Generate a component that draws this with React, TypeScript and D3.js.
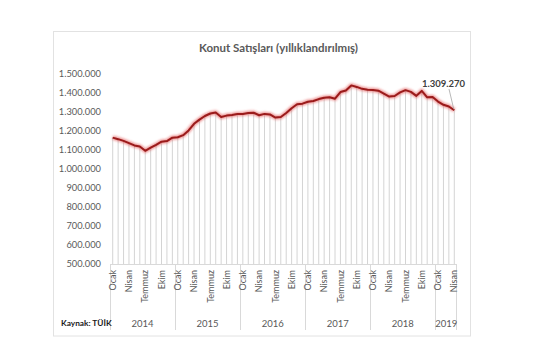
import React from "react";
import * as d3 from "d3";

const years = ["2014", "2015", "2016", "2017", "2018", "2019"];
const monthNames = ["Ocak", "Şubat", "Mart", "Nisan", "Mayıs", "Haziran", "Temmuz", "Ağustos", "Eylül", "Ekim", "Kasım", "Aralık"];
const shownMonths = ["Ocak", "Nisan", "Temmuz", "Ekim"];

const sales2014 = [1165000, 1157000, 1148000, 1136000, 1124000, 1118000, 1096000, 1112000, 1127000, 1144000, 1147000, 1165000];
const sales2015 = [1167000, 1178000, 1203000, 1238000, 1260000, 1279000, 1292000, 1297000, 1274000, 1281000, 1284000, 1289000];
const sales2016 = [1290000, 1295000, 1296000, 1283000, 1290000, 1287000, 1271000, 1274000, 1295000, 1320000, 1341000, 1344000];
const sales2017 = [1354000, 1358000, 1368000, 1375000, 1378000, 1370000, 1405000, 1413000, 1440000, 1432000, 1422000, 1417000];
const sales2018 = [1416000, 1412000, 1397000, 1381000, 1384000, 1403000, 1415000, 1406000, 1385000, 1411000, 1377000, 1379000];
const sales2019 = [1355000, 1338000, 1329000, 1309270];

const yTicks = [500000, 600000, 700000, 800000, 900000, 1000000, 1100000, 1200000, 1300000, 1400000, 1500000];

const seriesByYear = [sales2014, sales2015, sales2016, sales2017, sales2018, sales2019];

type Pt = { key: string; year: string; month: string; value: number };
const data: Pt[] = [];
seriesByYear.forEach((arr, yi) => {
  arr.forEach((v, mi) => {
    data.push({ key: `${years[yi]}-${mi}`, year: years[yi], month: monthNames[mi], value: v });
  });
});

const fmt = (v: number) => d3.format(",")(Math.round(v)).replace(/,/g, ".");

export default function App() {
  const W = 555, H = 355;
  const left = 110, right = 457, top = 74, bottom = 264;
  const x = d3.scaleBand<string>().domain(data.map(d => d.key)).range([left, right]).padding(0);
  const cx = (k: string) => (x(k) as number) + x.bandwidth() / 2;
  const y = d3.scaleLinear().domain([500000, 1500000]).range([bottom, top]);
  const line = d3.line<Pt>().x(d => cx(d.key)).y(d => y(d.value));
  const path = line(data) || "";
  const font = "Lato, 'Liberation Sans', sans-serif";
  const last = data[data.length - 1];

  // year spans
  const yearSpans = years.map(yr => {
    const pts = data.filter(d => d.year === yr);
    const x0 = x(pts[0].key) as number;
    const x1 = (x(pts[pts.length - 1].key) as number) + x.bandwidth();
    return { yr, x0, x1 };
  });

  return (
    <svg width={W} height={H} style={{ position: "absolute", left: 0, top: 0, background: "#fff" }}>
      <defs>
        <filter id="glow" x="-5%" y="-20%" width="110%" height="140%">
          <feGaussianBlur stdDeviation="1.2" />
        </filter>
      </defs>
      <rect x={53.5} y={31.5} width={417} height={304.5} fill="#fff" stroke="#e2e2e2" strokeWidth={1} />
      <text x={278.5} y={52} textAnchor="middle" fontFamily={font} fontSize={11} fontWeight={700} fill="#595959" textLength={159} lengthAdjust="spacingAndGlyphs">
        Konut Satışları (yıllıklandırılmış)
      </text>

      {yTicks.map(t => (
        <text key={t} x={101} y={y(t) + 3.3} textAnchor="end" fontFamily={font} fontSize={9.3} fill="#595959">
          {fmt(t)}
        </text>
      ))}

      {data.map(d => (
        <line key={"drop" + d.key} x1={cx(d.key)} x2={cx(d.key)} y1={y(d.value)} y2={bottom} stroke="#d4d4d4" strokeWidth={1} />
      ))}
      <line x1={left} x2={right} y1={bottom + 0.5} y2={bottom + 0.5} stroke="#d9d9d9" strokeWidth={1} />

      {yearSpans.map(s => (
        <line key={"sep" + s.yr} x1={Math.round(s.x0) + 0.5} x2={Math.round(s.x0) + 0.5} y1={bottom} y2={330} stroke="#d9d9d9" strokeWidth={1} />
      ))}
      <line x1={Math.round(right) - 0.5} x2={Math.round(right) - 0.5} y1={bottom} y2={330} stroke="#d9d9d9" strokeWidth={1} />

      {data.filter(d => shownMonths.includes(d.month)).map(d => (
        <text key={"m" + d.key} transform={`translate(${cx(d.key) + 3.2},${bottom + 6}) rotate(-90)`} textAnchor="end" fontFamily={font} fontSize={9} fill="#595959">
          {d.month}
        </text>
      ))}

      {yearSpans.map(s => (
        <text key={"y" + s.yr} x={(s.x0 + s.x1) / 2} y={326.5} textAnchor="middle" fontFamily={font} fontSize={9.5} fill="#595959">
          {s.yr}
        </text>
      ))}

      <text x={61} y={325.5} fontFamily={font} fontSize={8.3} fontWeight={700} fill="#1a1a1a">Kaynak: TÜİK</text>

      <path d={path} fill="none" stroke="#e04848" strokeOpacity={0.55} strokeWidth={4.5} filter="url(#glow)" strokeLinejoin="round" />
      <path d={path} fill="none" stroke="#9b1b1b" strokeWidth={2} strokeLinejoin="round" />

      <line x1={449} y1={89} x2={cx(last.key) - 0.5} y2={y(last.value) - 1} stroke="#a6a6a6" strokeWidth={0.8} />
      <text x={465} y={86.5} textAnchor="end" fontFamily={font} fontSize={9.5} fontWeight={700} fill="#404040">
        {fmt(last.value)}
      </text>
    </svg>
  );
}
